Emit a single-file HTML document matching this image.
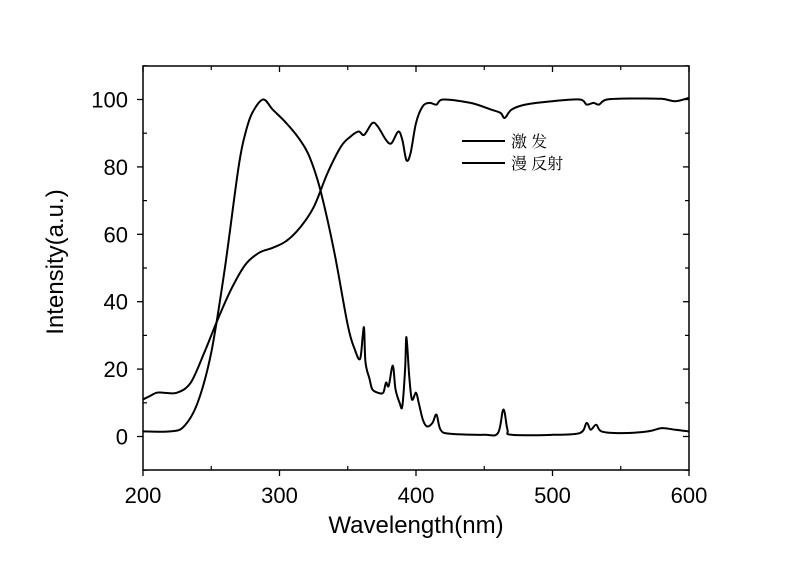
<!DOCTYPE html>
<html><head><meta charset="utf-8"><style>
body{margin:0;background:#fff;}
svg{display:block;font-family:"Liberation Sans","Noto Sans CJK SC",sans-serif;}
</style></head><body>
<svg id="chart" width="800" height="565">
<g id="axes"></g><g id="series"></g>
</svg>
<script>
const xTicks=[200,300,400,500,600];
const yTicks=[0,20,40,60,80,100];
const excWl=[200,220,230,240,250,260,270,275,280,288,295,305,315,322,330,340,350,355,359,361,362,363,366,368,372,376,378,380,383,385,388,390,392,393,395,397,400,402,405,408,412,415,418,425,450,460,464,467,470,500,520,525,528,532,536,550,570,580,590,600];
const excVal=[1.5,1.5,3,10,25,50,80,90,96,100,97,93,88,83,73,55,33,26,23,30,32,22,17,14,13,13,16,15,21,14,10,9,20,29.5,18,11,13,10,5,3,4,6.5,2,0.8,0.5,1,8,2,0.5,0.5,1,4,2,3.5,1.5,1,1.5,2.5,2,1.5];
const refWl=[200,205,210,215,225,235,245,255,265,275,285,295,305,315,325,335,345,352,358,362,368,372,378,382,387,390,393,396,400,405,410,415,420,440,455,462,465,470,480,500,520,525,530,534,540,560,580,590,600];
const refVal=[11,12,13,13,13,16,25,35,44,51,54.5,56,58,62,68,78,86,89,90.5,89.5,93,92,88,87,90.5,88,82,84,93,98,99,98.5,100,99,97,96,94.5,97,98.5,99.5,100,98.5,99,98.5,100,100.3,100.2,99.5,100.5];
const X0=143,X1=689,Y0=470,Y1=66;
const xs=v=>X0+(v-200)/400*(X1-X0);
const ys=v=>436.5-v*3.37;
const NS='http://www.w3.org/2000/svg';
function mk(p,t,a){const e=document.createElementNS(NS,t);for(const k in a)e.setAttribute(k,a[k]);p.appendChild(e);return e;}
const ax=document.getElementById('axes');
const frame=mk(ax,'rect',{x:X0,y:Y1,width:X1-X0,height:Y0-Y1,fill:'none',stroke:'#000','stroke-width':1.5});


xTicks.forEach(v=>{const x=xs(v);
 mk(ax,'line',{x1:x,x2:x,y1:Y0,y2:Y0+6,stroke:'#000','stroke-width':1.3});
 mk(ax,'line',{x1:x,x2:x,y1:Y1,y2:Y1+6,stroke:'#000','stroke-width':1.3});
 const t=mk(ax,'text',{x:x,y:Y0+33,'font-size':22,'text-anchor':'middle'});t.textContent=v;
 
 
 if(v<600){const m=xs(v+50);
  mk(ax,'line',{x1:m,x2:m,y1:Y0,y2:Y0-4,stroke:'#000','stroke-width':1.2});
  mk(ax,'line',{x1:m,x2:m,y1:Y1,y2:Y1+4,stroke:'#000','stroke-width':1.2});}
});
yTicks.forEach(v=>{const y=ys(v);
 mk(ax,'line',{x1:X0,x2:X0-6,y1:y,y2:y,stroke:'#000','stroke-width':1.3});
 mk(ax,'line',{x1:X1,x2:X1-6,y1:y,y2:y,stroke:'#000','stroke-width':1.3});
 const t=mk(ax,'text',{x:X0-15,y:y+8,'font-size':22,'text-anchor':'end'});t.textContent=v;
 
 
});
[-10,10,30,50,70,90,110].forEach(v=>{const y=ys(v);if(y<Y1-1||y>Y0+1)return;
 mk(ax,'line',{x1:X0,x2:X0+4,y1:y,y2:y,stroke:'#000','stroke-width':1.2});
 mk(ax,'line',{x1:X1,x2:X1-4,y1:y,y2:y,stroke:'#000','stroke-width':1.2});});
const xt=mk(ax,'text',{x:416,y:533,'font-size':24,'text-anchor':'middle'});xt.textContent='Wavelength(nm)';


const yt=mk(ax,'text',{x:0,y:0,'font-size':24,'text-anchor':'middle',transform:'translate(63,262) rotate(-90)'});yt.textContent='Intensity(a.u.)';


const sg=document.getElementById('series');
function line(wl,val,name){
 const P=wl.map((w,i)=>[xs(w),ys(val[i])]);
 let d='M'+P[0][0].toFixed(1)+','+P[0][1].toFixed(1);
 for(let i=0;i<P.length-1;i++){
  const p0=P[Math.max(0,i-1)],p1=P[i],p2=P[i+1],p3=P[Math.min(P.length-1,i+2)];
  const c1=[p1[0]+(p2[0]-p0[0])/6,p1[1]+(p2[1]-p0[1])/6];
  const c2=[p2[0]-(p3[0]-p1[0])/6,p2[1]-(p3[1]-p1[1])/6];
  d+='C'+c1.map(n=>n.toFixed(1)).join(',')+' '+c2.map(n=>n.toFixed(1)).join(',')+' '+p2.map(n=>n.toFixed(1)).join(',');
 }
 const p=mk(sg,'path',{d:d,fill:'none',stroke:'#000','stroke-width':2,'stroke-linejoin':'round'});
 
 }
line(excWl,excVal,'excitation-line');
line(refWl,refVal,'reflectance-line');
[['激 发',141,'legend-excitation'],['漫 反射',163,'legend-reflectance']].forEach(([s,y,n])=>{
 const g=mk(sg,'g',{});
 
 
 mk(g,'line',{x1:462,x2:505,y1:y,y2:y,stroke:'#000','stroke-width':2});
 const t=mk(g,'text',{x:511,y:y+6,'font-size':16,'font-family':'"Noto Serif CJK SC",serif'});t.textContent=s;});
</script>
</body></html>
